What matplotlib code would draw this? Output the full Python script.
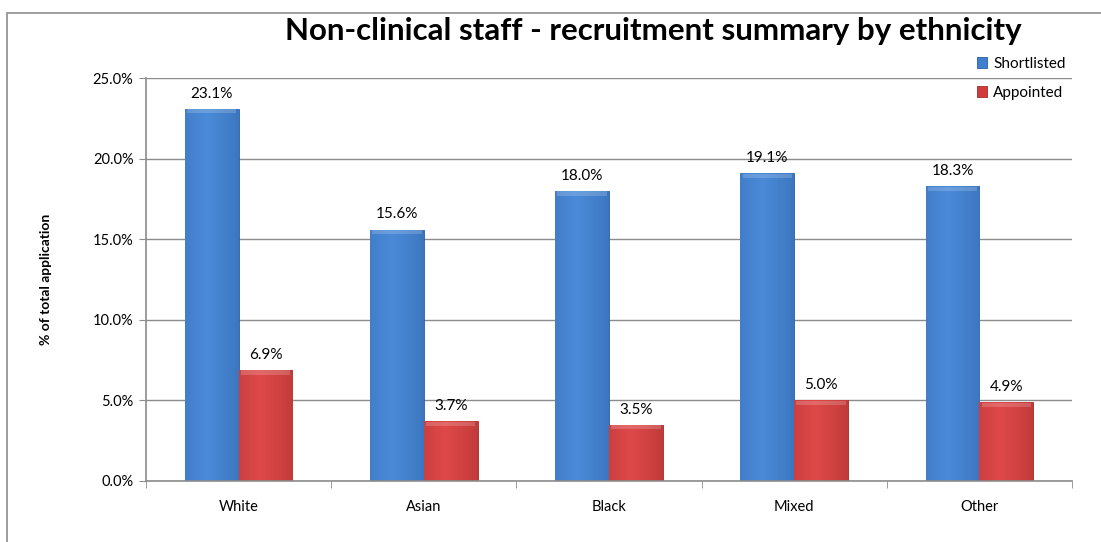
import numpy as np
import matplotlib
matplotlib.use("Agg")
import matplotlib.pyplot as plt
from matplotlib.patches import Rectangle
from matplotlib.ticker import FuncFormatter, MultipleLocator

# ── data ──────────────────────────────────────────────────────────────────────
categories = ["White", "Asian", "Black", "Mixed", "Other"]
shortlisted = [23.1, 15.6, 18.0, 19.1, 18.3]
appointed = [6.9, 3.7, 3.5, 5.0, 4.9]

plt.rcParams["font.family"] = ["Lato", "DejaVu Sans"]

W, H = 1101, 542
fig = plt.figure(figsize=(W / 100, H / 100), dpi=100)

# outer chart border (only left/top visible in the reference)
fig.patches.append(Rectangle((7 / W, -0.5), 2, 1.5 - 13 / H, transform=fig.transFigure,
                             fill=False, edgecolor="#8c8c8c", linewidth=1.2))

ax = fig.add_axes([146 / W, 1 - 481 / H, (1072 - 146) / W, (481 - 78) / H])

x = np.arange(len(categories))
width = 0.29


def gradient_bars(xs, heights, dark, mid, light):
    bars = ax.bar(xs, heights, width=width, color=mid, edgecolor=dark,
                  linewidth=0.6, zorder=2)
    # horizontal shading to mimic the bevelled Excel look
    t = np.linspace(0, 1, 64)
    prof = np.clip(1 - np.abs(t - 0.4) * 1.2, 0, 1) ** 0.5
    c_dark = np.array(matplotlib.colors.to_rgb(dark))
    c_light = np.array(matplotlib.colors.to_rgb(light))
    img = c_dark[None, :] + (c_light - c_dark)[None, :] * prof[:, None]
    img = img[None, :, :]
    for b in bars:
        x0, w_, h = b.get_x(), b.get_width(), b.get_height()
        im = ax.imshow(img, extent=[x0, x0 + w_, 0, h], aspect="auto",
                       zorder=2.5, interpolation="bilinear")
        im.set_clip_path(b)
        # soft top bevel
        ax.add_patch(Rectangle((x0 + w_ * 0.04, h - 0.3), w_ * 0.92, 0.26,
                               color="white", alpha=0.18, zorder=2.6, linewidth=0))
    return bars


b1 = gradient_bars(x - width / 2, shortlisted, "#2d5fa3", "#3f7fcf", "#4a8ad8")
b2 = gradient_bars(x + width / 2, appointed, "#a02a2a", "#d03c3c", "#de4848")

for xs, vals in ((x - width / 2, shortlisted), (x + width / 2, appointed)):
    for xi, v in zip(xs, vals):
        ax.text(xi, v + 0.5, f"{v:.1f}%", ha="center", va="bottom",
                fontsize=11, color="black", zorder=4)

ax.set_xlim(-0.5, len(categories) - 0.5)
ax.set_ylim(0, 25)
ax.yaxis.set_major_locator(MultipleLocator(5))
ax.yaxis.set_major_formatter(FuncFormatter(lambda v, _: f"{v:.1f}%"))
ax.yaxis.grid(True, color="#8c8c8c", linewidth=1.0, zorder=0)
ax.set_axisbelow(True)

ax.set_xticks(x)
ax.set_xticklabels(categories, fontsize=10.5)
ax.set_xticks(np.arange(len(categories) + 1) - 0.5, minor=True)
ax.tick_params(axis="x", which="major", length=0, pad=14)
ax.tick_params(axis="x", which="minor", length=5, color="#8c8c8c", direction="out")
ax.tick_params(axis="y", length=5, color="#8c8c8c", labelsize=10.5, pad=4)

for s in ("top", "right"):
    ax.spines[s].set_visible(False)
for s in ("left", "bottom"):
    ax.spines[s].set_color("#8c8c8c")
    ax.spines[s].set_linewidth(1.2)

ax.set_ylabel("% of total application", fontsize=10, fontweight="bold", labelpad=29)

fig.text(653 / W, 1 - 31 / H, "Non-clinical staff - recruitment summary by ethnicity",
         ha="center", va="center", fontsize=22.5, fontweight="bold")

leg = ax.legend([b1, b2], ["Shortlisted", "Appointed"], loc="upper right",
                bbox_to_anchor=(1.0, 1.068), frameon=False, fontsize=11,
                handlelength=0.7, handleheight=0.7, handletextpad=0.4,
                labelspacing=1.0, borderaxespad=0.0)

fig.savefig("out.png", dpi=100)
